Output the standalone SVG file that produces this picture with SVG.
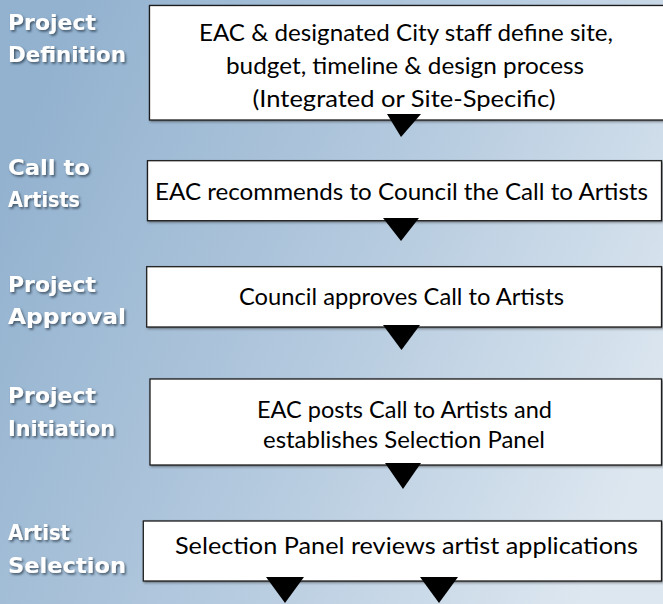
<svg xmlns="http://www.w3.org/2000/svg" width="663" height="604" viewBox="0 0 663 604">
  <defs>
    <linearGradient id="bg" x1="0" y1="0.3" x2="1" y2="0.7">
      <stop offset="0" stop-color="#93b2cf"/>
      <stop offset="0.5" stop-color="#b3c9de"/>
      <stop offset="1" stop-color="#dde7f0"/>
    </linearGradient>
    <filter id="ts" x="-10%" y="-30%" width="130%" height="180%">
      <feDropShadow dx="1.5" dy="1.8" stdDeviation="0.9" flood-color="#2a3a4a" flood-opacity="0.75"/>
    </filter>
    <filter id="bs" x="-5%" y="-5%" width="110%" height="115%">
      <feDropShadow dx="1.2" dy="1.2" stdDeviation="0.8" flood-color="#333" flood-opacity="0.6"/>
    </filter>
  </defs>
  <style>
    .box { fill: #ffffff; stroke: #1e1e1e; stroke-width: 1.3; filter: url(#bs); }
    .bt { font-family: Lato, "Noto Sans", "Liberation Sans", sans-serif; font-size: 23.5px; fill: #000; text-anchor: middle; }
    .lbl { font-family: "DejaVu Sans", "Liberation Sans", sans-serif; font-weight: bold; font-size: 22px; fill: #ffffff; filter: url(#ts); }
    .arr { fill: #000000; }
  </style>

  <rect x="0" y="0" width="663" height="604" fill="url(#bg)"/>

  <!-- stage labels -->
  <g id="label-definition">
    <text class="lbl" x="8" y="30" textLength="88" lengthAdjust="spacingAndGlyphs">Project</text>
    <text class="lbl" x="8" y="62" textLength="118" lengthAdjust="spacingAndGlyphs">Definition</text>
  </g>
  <g id="label-call">
    <text class="lbl" x="8" y="175" textLength="82" lengthAdjust="spacingAndGlyphs">Call to</text>
    <text class="lbl" x="8" y="207" textLength="72" lengthAdjust="spacingAndGlyphs">Artists</text>
  </g>
  <g id="label-approval">
    <text class="lbl" x="8" y="292" textLength="88" lengthAdjust="spacingAndGlyphs">Project</text>
    <text class="lbl" x="8" y="324" textLength="118" lengthAdjust="spacingAndGlyphs">Approval</text>
  </g>
  <g id="label-initiation">
    <text class="lbl" x="8" y="403" textLength="88" lengthAdjust="spacingAndGlyphs">Project</text>
    <text class="lbl" x="8" y="436" textLength="107" lengthAdjust="spacingAndGlyphs">Initiation</text>
  </g>
  <g id="label-selection">
    <text class="lbl" x="8" y="540" textLength="62" lengthAdjust="spacingAndGlyphs">Artist</text>
    <text class="lbl" x="8" y="573" textLength="118" lengthAdjust="spacingAndGlyphs">Selection</text>
  </g>

  <!-- process boxes -->
  <g id="node-define">
    <rect class="box" x="149.5" y="5.5" width="525" height="114.5"/>
    <text class="bt" x="406" y="41" textLength="414" lengthAdjust="spacingAndGlyphs">EAC &amp; designated City staff define site,</text>
    <text class="bt" x="405" y="74" textLength="358" lengthAdjust="spacingAndGlyphs">budget, timeline &amp; design process</text>
    <text class="bt" x="404" y="107" textLength="303" lengthAdjust="spacingAndGlyphs">(Integrated or Site-Specific)</text>
  </g>
  <g id="node-recommend">
    <rect class="box" x="147.5" y="160.7" width="514" height="60"/>
    <text class="bt" x="401.5" y="200" textLength="493" lengthAdjust="spacingAndGlyphs">EAC recommends to Council the Call to Artists</text>
  </g>
  <g id="node-approve">
    <rect class="box" x="146.7" y="266.7" width="514.8" height="60.3"/>
    <text class="bt" x="401.5" y="305" textLength="325" lengthAdjust="spacingAndGlyphs">Council approves Call to Artists</text>
  </g>
  <g id="node-post">
    <rect class="box" x="150" y="379" width="511.5" height="86"/>
    <text class="bt" x="404.5" y="418" textLength="295" lengthAdjust="spacingAndGlyphs">EAC posts Call to Artists and</text>
    <text class="bt" x="404" y="448" textLength="282" lengthAdjust="spacingAndGlyphs">establishes Selection Panel</text>
  </g>
  <g id="node-review">
    <rect class="box" x="143.3" y="521" width="518.2" height="60"/>
    <text class="bt" x="406.5" y="554" textLength="463" lengthAdjust="spacingAndGlyphs">Selection Panel reviews artist applications</text>
  </g>

  <!-- connectors -->
  <g id="connectors">
    <polygon class="arr" points="387,114 421,114 401,137"/>
    <polygon class="arr" points="383,218 419,218 401,241"/>
    <polygon class="arr" points="383,325 420,325 401.5,350"/>
    <polygon class="arr" points="385,463 421,463 403,489"/>
    <polygon class="arr" points="266,577 304,577 285,603"/>
    <polygon class="arr" points="420,577 458,577 439,603"/>
  </g>
</svg>
